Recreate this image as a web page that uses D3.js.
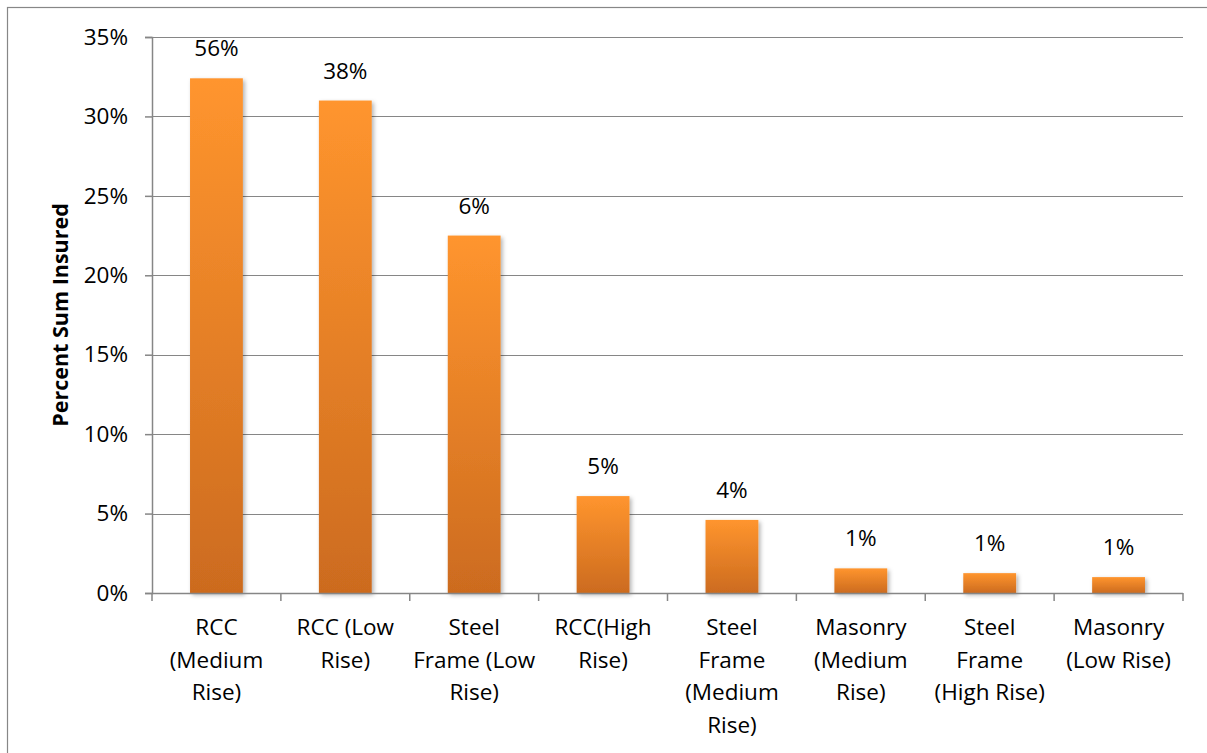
<!DOCTYPE html>
<html>
<head>
<meta charset="utf-8">
<script src="https://cdn.jsdelivr.net/npm/d3@7"></script>
<style>
  body { margin: 0; background: #fff; }
  svg { display: block; font-family: "Open Sans", sans-serif; }
  .tick text { fill: #000; }
</style>
</head>
<body>
<script>
// Chart data
var categories = ["RCC (Medium Rise)", "RCC (Low Rise)", "Steel Frame (Low Rise)", "RCC(High Rise)",
  "Steel Frame (Medium Rise)", "Masonry (Medium Rise)", "Steel Frame (High Rise)", "Masonry (Low Rise)"];
// wrapped tick labels, as they appear under each bar
var categoryLines = [
  ["RCC", "(Medium", "Rise)"],
  ["RCC (Low", "Rise)"],
  ["Steel", "Frame (Low", "Rise)"],
  ["RCC(High", "Rise)"],
  ["Steel", "Frame", "(Medium", "Rise)"],
  ["Masonry", "(Medium", "Rise)"],
  ["Steel", "Frame", "(High Rise)"],
  ["Masonry", "(Low Rise)"]
];
var percentSumInsured = [32.4, 31.0, 22.5, 6.1, 4.6, 1.55, 1.25, 1.0];
var barLabels = ["56%", "38%", "6%", "5%", "4%", "1%", "1%", "1%"];
var yTicks = [0, 5, 10, 15, 20, 25, 30, 35];

// SVG area
var svgWidth = 1207;
var svgHeight = 753;

var margin = { top: 37, right: 24, bottom: 160, left: 152 };
var chartWidth = 1183 - margin.left;
var chartHeight = 593 - margin.top;

var svg = d3.select("body")
  .append("svg")
  .attr("width", svgWidth)
  .attr("height", svgHeight);

// outer chart border (runs off the right and bottom edges)
svg.append("rect")
  .attr("x", 7.5)
  .attr("y", 7.5)
  .attr("width", svgWidth)
  .attr("height", svgHeight)
  .attr("fill", "none")
  .attr("stroke", "#878787")
  .attr("stroke-width", 1.2);

var defs = svg.append("defs");
var grad = defs.append("linearGradient")
  .attr("id", "barGrad")
  .attr("x1", 0).attr("y1", 0)
  .attr("x2", 0).attr("y2", 1);
grad.append("stop").attr("offset", "0%").attr("stop-color", "#FF952E");
grad.append("stop").attr("offset", "100%").attr("stop-color", "#CC6B1F");

var shadow = defs.append("filter")
  .attr("id", "barShadow")
  .attr("x", "-20%").attr("y", "-20%")
  .attr("width", "150%").attr("height", "150%");
shadow.append("feDropShadow")
  .attr("dx", 2).attr("dy", 2)
  .attr("stdDeviation", 2)
  .attr("flood-color", "#000")
  .attr("flood-opacity", 0.3);

var chartGroup = svg.append("g")
  .attr("transform", `translate(${margin.left}, ${margin.top})`);

// scales
var xBandScale = d3.scaleBand()
  .domain(categories)
  .range([0, chartWidth])
  .paddingInner(0.59)
  .paddingOuter(0.295);

var xStepScale = d3.scaleBand()
  .domain(categories)
  .range([0, chartWidth]);

var yLinearScale = d3.scaleLinear()
  .domain([0, 35])
  .range([chartHeight, 0]);

// gridlines
chartGroup.append("g")
  .selectAll("line")
  .data(yTicks.filter(d => d > 0))
  .enter()
  .append("line")
  .attr("x1", 0)
  .attr("x2", chartWidth)
  .attr("y1", d => Math.round(yLinearScale(d)) + 0.5)
  .attr("y2", d => Math.round(yLinearScale(d)) + 0.5)
  .attr("stroke", "#868686")
  .attr("stroke-width", 1.2);

// left axis
var leftAxis = d3.axisLeft(yLinearScale)
  .tickValues(yTicks)
  .tickSize(7)
  .tickPadding(17)
  .tickFormat(d => d + "%");

var yAxisGroup = chartGroup.append("g")
  .call(leftAxis);
yAxisGroup.select(".domain").attr("stroke", "#868686").attr("stroke-width", 1.5);
yAxisGroup.selectAll(".tick line").attr("stroke", "#868686").attr("stroke-width", 1.5);
yAxisGroup.selectAll(".tick text")
  .attr("font-size", 22.5)
  .attr("font-family", "Open Sans, sans-serif");

// bars
chartGroup.selectAll("rect.bar")
  .data(percentSumInsured)
  .enter()
  .append("rect")
  .attr("class", "bar")
  .attr("x", (d, i) => xBandScale(categories[i]))
  .attr("width", xBandScale.bandwidth())
  .attr("y", d => yLinearScale(d))
  .attr("height", d => chartHeight - yLinearScale(d))
  .attr("fill", "url(#barGrad)")
  .attr("filter", "url(#barShadow)");

// bottom axis: line with tick marks at category boundaries
var bottomGroup = chartGroup.append("g")
  .attr("transform", `translate(0, ${chartHeight})`);
bottomGroup.append("line")
  .attr("x1", 0).attr("x2", chartWidth)
  .attr("y1", 0.5).attr("y2", 0.5)
  .attr("stroke", "#868686")
  .attr("stroke-width", 1.5);
bottomGroup.selectAll("line.tickmark")
  .data(categories.concat([null]))
  .enter()
  .append("line")
  .attr("class", "tickmark")
  .attr("x1", (d, i) => i * xStepScale.step())
  .attr("x2", (d, i) => i * xStepScale.step())
  .attr("y1", 0)
  .attr("y2", 8)
  .attr("stroke", "#868686")
  .attr("stroke-width", 1.5);

// category labels
var catLabels = bottomGroup.selectAll("text.cat")
  .data(categoryLines)
  .enter()
  .append("text")
  .attr("class", "cat")
  .attr("text-anchor", "middle")
  .attr("font-size", 22.5)
  .attr("fill", "#000")
  .attr("transform", (d, i) => `translate(${xStepScale(categories[i]) + xStepScale.step() / 2}, 42)`);

catLabels.selectAll("tspan")
  .data(d => d)
  .enter()
  .append("tspan")
  .attr("x", 0)
  .attr("y", (d, i) => i * 32.5)
  .text(d => d);

// value labels above the bars
chartGroup.selectAll("text.val")
  .data(percentSumInsured)
  .enter()
  .append("text")
  .attr("class", "val")
  .attr("text-anchor", "middle")
  .attr("font-size", 22.5)
  .attr("fill", "#000")
  .attr("x", (d, i) => xBandScale(categories[i]) + xBandScale.bandwidth() / 2)
  .attr("y", d => yLinearScale(d) - 22)
  .text((d, i) => barLabels[i]);

// y axis title
chartGroup.append("text")
  .attr("transform", "rotate(-90)")
  .attr("x", 0 - (chartHeight / 2))
  .attr("y", 0 - margin.left + 68)
  .attr("text-anchor", "middle")
  .attr("font-size", 21.5)
  .attr("font-weight", "bold")
  .attr("fill", "#000")
  .text("Percent Sum Insured");
</script>
</body>
</html>
